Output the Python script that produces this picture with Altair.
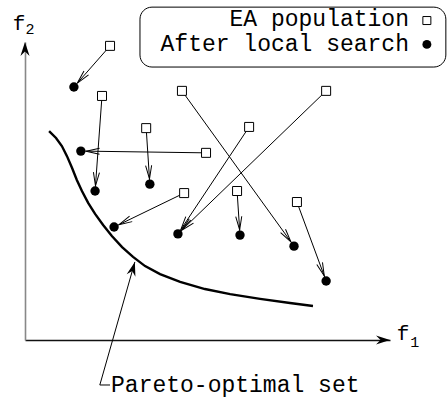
import math
import altair as alt
import pandas as pd

# ---------------- data (abstract f1/f2 units, 0..10 on both axes) ----------------
sq_f1 = [2.33, 2.11, 3.32, 4.96, 4.30, 6.14, 8.25, 5.81, 7.45, 4.36]
sq_f2 = [9.87, 8.19, 7.11, 6.28, 8.36, 7.15, 8.36, 5.00, 4.63, 4.93]
dot_f1 = [1.34, 1.92, 3.42, 1.53, 7.37, 4.19, 4.19, 5.89, 8.25, 2.44]
dot_f2 = [8.49, 5.00, 5.23, 6.34, 3.15, 3.56, 3.56, 3.52, 1.98, 3.79]

pareto_f1 = [0.66, 0.85, 1.01, 1.15, 1.29, 1.42, 1.56, 1.73, 1.92, 2.14, 2.38,
             2.66, 2.96, 3.29, 3.70, 4.25, 4.93, 5.62, 6.44, 7.26, 7.89]
pareto_f2 = [7.01, 6.78, 6.51, 6.17, 5.77, 5.37, 5.00, 4.60, 4.23, 3.86, 3.49,
             3.12, 2.79, 2.48, 2.21, 1.95, 1.71, 1.54, 1.38, 1.24, 1.14]

legend_labels = ["EA population", "After local search"]
pareto_label = "Pareto-optimal set"

# ---------------- layout ----------------
W, H = 365, 298
PX_X, PX_Y = W / 10.0, H / 10.0
FONT = "Liberation Mono"

xs = alt.Scale(domain=[0, 10], nice=False, zero=False)
ys = alt.Scale(domain=[0, 10], nice=False, zero=False)


def X(f, **kw):
    return alt.X(f, type="quantitative", scale=xs, axis=alt.Axis(title=None), **kw)


def Y(f, **kw):
    return alt.Y(f, type="quantitative", scale=ys, axis=alt.Axis(title=None), **kw)


# moves: square -> dot
moves = pd.DataFrame({"sx": sq_f1, "sy": sq_f2, "dx": dot_f1, "dy": dot_f2})
ang = []
for a, b, c, d in zip(sq_f1, sq_f2, dot_f1, dot_f2):
    vx = (a - c) * PX_X
    vy = -(b - d) * PX_Y
    ang.append(math.degrees(math.atan2(vx, -vy)) % 360)
moves["ang"] = ang

dots = pd.DataFrame({"f1": dot_f1, "f2": dot_f2}).drop_duplicates()
squares = pd.DataFrame({"f1": sq_f1, "f2": sq_f2})
curve = pd.DataFrame({"f1": pareto_f1, "f2": pareto_f2, "i": range(len(pareto_f1))})

# --- arrows (lines from square to dot) ---
lines = alt.Chart(moves).mark_rule(color="black", strokeWidth=1).encode(
    x=X("sx"), y=Y("sy"), x2="dx", y2="dy")

CHEVRON = "M0,-0.95L-0.55,-3.4M0,-0.95L0.55,-3.4"
chev = alt.Chart(moves).mark_point(shape=CHEVRON, filled=False, color="black",
                                    strokeWidth=1, size=121, opacity=1).encode(
    x=X("dx"), y=Y("dy"), angle=alt.Angle("ang:Q", scale=None))

dot_layer = alt.Chart(dots).mark_circle(color="black", size=88, opacity=1).encode(
    x=X("f1"), y=Y("f2"))
sq_layer = alt.Chart(squares).mark_point(shape="square", filled=True, fill="white",
                                         stroke="black", strokeWidth=1, size=81,
                                         opacity=1).encode(x=X("f1"), y=Y("f2"))

pareto = alt.Chart(curve).mark_line(color="black", strokeWidth=2.4).encode(
    x=X("f1"), y=Y("f2"), order="i:Q")

# --- arrowheads (axes and Pareto leader) ---
STEALTH = "M0,0L-2,-0.65L-1.35,0L-2,0.65Z"
tip_x, tip_y = 3.01, 2.62
corner_x, corner_y = 2.05, -1.51
end_x = 2.33
p_ang = math.degrees(math.atan2((tip_y - corner_y) * -PX_Y, (tip_x - corner_x) * PX_X)) % 360
heads = pd.DataFrame({"f1": [10, 0, tip_x], "f2": [0, 10, tip_y], "ang": [0, 270, p_ang]})
head_layer = alt.Chart(heads).mark_point(shape=STEALTH, filled=True, color="black",
                                         size=196, opacity=1, strokeWidth=0).encode(
    x=X("f1"), y=Y("f2"), angle=alt.Angle("ang:Q", scale=None))

leader = pd.DataFrame({"f1": [tip_x, corner_x, end_x], "f2": [tip_y, corner_y, corner_y],
                       "i": [0, 1, 2]})
leader_layer = alt.Chart(leader).mark_line(color="black", strokeWidth=1).encode(
    x=X("f1"), y=Y("f2"), order="i:Q")

ptext = alt.Chart(pd.DataFrame({"f1": [end_x], "f2": [corner_y], "t": [pareto_label]})).mark_text(
    font=FONT, fontSize=23, align="left", baseline="middle", color="black", dx=1).encode(
    x=X("f1"), y=Y("f2"), text="t:N")

# --- axis labels f1, f2 ---
ftxt = pd.DataFrame({"f1": [-0.16, 10.36], "f2": [10.60, 0.20], "t": ["f", "f"]})
subs = pd.DataFrame({"f1": [0.14, 10.68], "f2": [10.44, -0.07], "t": ["2", "1"]})
f_layer = alt.Chart(ftxt).mark_text(font=FONT, fontSize=21, align="center",
                                    baseline="middle", color="black").encode(
    x=X("f1"), y=Y("f2"), text="t:N")
s_layer = alt.Chart(subs).mark_text(font=FONT, fontSize=15, align="center",
                                    baseline="middle", color="black").encode(
    x=X("f1"), y=Y("f2"), text="t:N")

# --- legend box ---
box = alt.Chart(pd.DataFrame({"a": [3.15], "b": [11.53], "c": [9.16], "d": [11.17]})).mark_rect(
    fill="white", stroke="black", strokeWidth=1, cornerRadius=12).encode(
    x=X("a"), x2="b", y=Y("c"), y2="d")
leg = pd.DataFrame({"f1": [10.52, 10.52], "f2": [10.76, 9.92], "t": legend_labels})
leg_text = alt.Chart(leg).mark_text(font=FONT, fontSize=23, align="right",
                                    baseline="middle", color="black").encode(
    x=X("f1"), y=Y("f2"), text="t:N")
leg_sq = alt.Chart(pd.DataFrame({"f1": [11.01], "f2": [10.72]})).mark_point(
    shape="square", filled=True, fill="white", stroke="black", strokeWidth=1,
    size=64, opacity=1).encode(x=X("f1"), y=Y("f2"))
leg_dot = alt.Chart(pd.DataFrame({"f1": [11.01], "f2": [9.92]})).mark_circle(
    color="black", size=80, opacity=1).encode(x=X("f1"), y=Y("f2"))

chart = alt.layer(
    box, pareto, leader_layer, head_layer, lines, chev, dot_layer, sq_layer,
    ptext, f_layer, s_layer, leg_text, leg_sq, leg_dot
).properties(
    width=W, height=H,
    autosize=alt.AutoSizeParams(type="none"),
    padding={"left": 25, "top": 42, "right": 58, "bottom": 59},
    background="white",
).configure_view(stroke=None).configure_axis(
    grid=False, ticks=False, labels=False, domain=True
).configure_axisX(domainColor="#111", domainWidth=1.3).configure_axisY(
    domainColor="#888", domainWidth=1.6)

chart.save("out.html", embed_options={"renderer": "svg", "actions": False})
